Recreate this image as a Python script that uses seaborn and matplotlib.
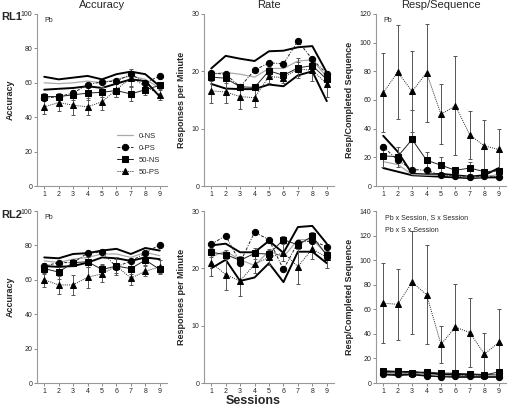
import numpy as np
import pandas as pd
import seaborn as sns
import matplotlib.pyplot as plt

sessions = [1, 2, 3, 4, 5, 6, 7, 8, 9]
groups = ['0-NS', '0-PS', '50-NS', '50-PS']

# RL1 accuracy
acc1_ns = [60, 59.5, 60, 61, 60, 62, 64, 62, 57]
acc1_ns_hi = [63.5, 62, 63, 64, 62, 65, 66.5, 65, 58]
acc1_ns_lo = [56, 56.5, 57, 58, 57, 59.5, 62, 61, 52]
acc1_ps = [51, 52, 54, 59, 60.5, 61, 65, 60, 64]
acc1_50ns = [52, 52, 53, 54, 54.5, 55.5, 53.5, 56, 58.5]
acc1_50ns_err = [2, 2, 3, 4, 3, 4, 4, 3, 2]
acc1_50ps = [46, 48.5, 47, 46, 49, 56, 63, 58, 53]
acc1_50ps_err = [4, 5, 6, 5, 5, 4, 5, 3, 3]

# RL1 rate
rate1_ns = [19.5, 19.8, 19.5, 19, 20.5, 20.5, 21.8, 22, 19]
rate1_ns_hi = [20.5, 22.7, 22.2, 21.8, 23.5, 23.6, 24.2, 24.4, 19.8]
rate1_ns_lo = [17.8, 17, 16.9, 16.9, 17.7, 17.4, 19.3, 20, 14.8]
rate1_ps = [19.7, 19.5, 17.3, 20.2, 21.5, 21.3, 25.3, 22.1, 19.6]
rate1_50ns = [19, 18.8, 17.3, 17.2, 20.1, 19.3, 20.6, 21, 18.6]
rate1_50ns_err = [0.6, 0.8, 0.5, 0.5, 0.7, 0.6, 1.7, 1.0, 1.2]
rate1_50ps = [16.6, 16.4, 15.6, 15.4, 19.1, 18.9, 20.4, 20.2, 17.8]
rate1_50ps_err = [2.1, 2.0, 2.1, 1.7, 1.1, 1.0, 1.3, 1.8, 2.2]

# RL1 responses per sequence
seq1_ns = [17, 15, 8, 7.5, 7.5, 7, 6, 6.5, 8]
seq1_ns_hi = [35, 24, 8.5, 8, 8.5, 7.5, 6.5, 7.5, 12.5]
seq1_ns_lo = [12.5, 10, 7.5, 7, 6.5, 6, 5.5, 6, 6]
seq1_ps = [27.5, 18, 11.5, 11, 7.5, 7, 6, 7, 6.5]
seq1_50ns = [21, 20.5, 32.5, 18, 14.5, 11, 12.5, 10, 10.5]
seq1_50ns_err = [8, 7, 20.5, 6, 5.5, 1.5, 4, 1, 2]
seq1_50ps = [65, 79.5, 66, 79, 50, 56, 35.5, 28, 25.5]
seq1_50ps_err = [27.5, 33, 28.5, 34, 21, 34.5, 16.5, 18, 14.5]

# RL2 accuracy
acc2_ns = [71, 70, 72, 73, 75, 75, 73, 76, 74]
acc2_ns_hi = [73, 72.5, 75, 75.5, 77, 78, 75, 78.5, 77]
acc2_ns_lo = [68, 67.5, 68, 70, 73, 72.5, 71, 73, 72]
acc2_ps = [68, 70, 70, 75.5, 76, 67.5, 71, 75.5, 80.5]
acc2_50ns = [66.5, 64.5, 70, 70.5, 66, 68, 66.5, 71.5, 66]
acc2_50ns_err = [3, 4, 2, 3, 3, 4, 3, 3, 2]
acc2_50ps = [60, 57, 57, 61.5, 63.5, 68, 61, 65, 67.5]
acc2_50ps_err = [4, 5, 6, 6, 5, 5, 4, 3, 4]

# RL2 rate
rate2_ns = [22, 23, 21.5, 20.5, 23, 22, 25, 25, 22.5]
rate2_ns_hi = [24, 24.3, 22.8, 22.8, 24.8, 22.7, 27.2, 27.4, 24.3]
rate2_ns_lo = [20, 21.5, 17.8, 18.4, 20.9, 17.6, 22.9, 22.9, 20.9]
rate2_ps = [24.2, 25.7, 21, 26.3, 25, 19.8, 24.5, 24.8, 23.8]
rate2_50ns = [22.8, 22.4, 21.4, 22.6, 22.5, 25, 24.1, 25.6, 22.3]
rate2_50ns_err = [0.8, 0.8, 0.7, 0.9, 0.8, 0.6, 0.8, 0.7, 0.8]
rate2_50ps = [21, 18.9, 17.8, 20.7, 21.9, 22.7, 20.3, 23.4, 21.9]
rate2_50ps_err = [2.3, 2.7, 2.7, 1.6, 1.3, 1.5, 3.1, 1.7, 1.9]

# RL2 responses per sequence
seq2_ns = [8, 8, 8, 7, 6, 6, 6, 6, 6]
seq2_ns_hi = [9, 9, 9, 8, 7, 7, 7, 6.5, 6]
seq2_ns_lo = [7, 6.5, 7, 6, 5.5, 5, 5, 5, 5]
seq2_ps = [7, 7, 7.5, 5.5, 5, 6, 6, 5.5, 4.5]
seq2_50ns = [10, 9.5, 8, 9, 8, 8, 7, 6.5, 9]
seq2_50ns_err = [1, 1, 1, 1, 1, 1, 1, 1, 1]
seq2_50ps = [65, 64, 82, 72, 31.5, 45.5, 41, 23.5, 33]
seq2_50ps_err = [32.5, 29, 42, 40, 15, 35, 28, 17, 27]

sns.set_style('ticks')
plt.rcParams['font.family'] = ['Liberation Sans', 'DejaVu Sans']

fig = plt.figure(figsize=(5.07, 4.13), dpi=100)

lefts = [37 / 507, 204 / 507, 376 / 507]
bottoms = [1 - 186 / 413, 1 - 383 / 413]
w, h = 130 / 507, 172 / 413

panels = [
    [(acc1_ns, acc1_ns_hi, acc1_ns_lo, acc1_ps, acc1_50ns, acc1_50ns_err, acc1_50ps, acc1_50ps_err),
     (rate1_ns, rate1_ns_hi, rate1_ns_lo, rate1_ps, rate1_50ns, rate1_50ns_err, rate1_50ps, rate1_50ps_err),
     (seq1_ns, seq1_ns_hi, seq1_ns_lo, seq1_ps, seq1_50ns, seq1_50ns_err, seq1_50ps, seq1_50ps_err)],
    [(acc2_ns, acc2_ns_hi, acc2_ns_lo, acc2_ps, acc2_50ns, acc2_50ns_err, acc2_50ps, acc2_50ps_err),
     (rate2_ns, rate2_ns_hi, rate2_ns_lo, rate2_ps, rate2_50ns, rate2_50ns_err, rate2_50ps, rate2_50ps_err),
     (seq2_ns, seq2_ns_hi, seq2_ns_lo, seq2_ps, seq2_50ns, seq2_50ns_err, seq2_50ps, seq2_50ps_err)],
]
ylims = [[(0, 100, 20), (0, 30, 10), (0, 120, 20)],
         [(0, 100, 20), (0, 30, 10), (0, 140, 20)]]
ylabels = ['Accuracy', 'Responses per Minute', 'Resp/Completed Sequence']
titles = ['Accuracy', 'Rate', 'Resp/Sequence']

line_c = '#222222'
for r in range(2):
    for c in range(3):
        ax = fig.add_axes([lefts[c], bottoms[r], w, h])
        ns, hi, lo, ps, n50, n50e, p50, p50e = panels[r][c]
        df = pd.DataFrame({'Session': sessions, 'ns': ns, 'hi': hi, 'lo': lo,
                           'ps': ps, 'n50': n50, 'p50': p50})
        sns.lineplot(data=df, x='Session', y='hi', ax=ax, color='black', lw=1.4)
        sns.lineplot(data=df, x='Session', y='lo', ax=ax, color='black', lw=1.4)
        sns.lineplot(data=df, x='Session', y='ns', ax=ax, color='#aaaaaa', lw=0.9,
                     label='0-NS' if (r, c) == (0, 0) else None)
        ax.errorbar(sessions, n50, yerr=n50e, fmt='none', ecolor='#555555',
                    elinewidth=0.7, capsize=1.5, capthick=0.7)
        ax.errorbar(sessions, p50, yerr=p50e, fmt='none', ecolor='#555555',
                    elinewidth=0.7, capsize=1.5, capthick=0.7)
        sns.lineplot(data=df, x='Session', y='ps', ax=ax, color=line_c, lw=0.7,
                     linestyle=(0, (3, 1.5, 1, 1.5)), marker='o', markersize=4.5,
                     markeredgecolor='black', markerfacecolor='black',
                     label='0-PS' if (r, c) == (0, 0) else None)
        sns.lineplot(data=df, x='Session', y='n50', ax=ax, color=line_c, lw=0.7,
                     marker='s', markersize=4.5, markeredgecolor='black',
                     markerfacecolor='black',
                     label='50-NS' if (r, c) == (0, 0) else None)
        sns.lineplot(data=df, x='Session', y='p50', ax=ax, color=line_c, lw=0.7,
                     linestyle=(0, (1, 1.2)), marker='^', markersize=5,
                     markeredgecolor='black', markerfacecolor='black',
                     label='50-PS' if (r, c) == (0, 0) else None)

        lo_y, hi_y, step = ylims[r][c]
        ax.set_ylim(lo_y, hi_y)
        ax.set_yticks(np.arange(lo_y, hi_y + 1, step))
        ax.set_xlim(0.5, 9.5)
        ax.set_xticks(sessions)
        ax.tick_params(labelsize=5, length=2, width=0.6, pad=1.5, color='#777777')
        ax.set_xlabel('')
        ax.set_ylabel(ylabels[c], fontsize=6.5, fontweight='bold', labelpad=4)
        sns.despine(ax=ax)
        for s in ['left', 'bottom']:
            ax.spines[s].set_color('#999999')
            ax.spines[s].set_linewidth(0.8)
        if r == 0:
            ax.set_title(titles[c], fontsize=8, pad=4)
        if c != 1 and (r, c) != (1, 2):
            ax.text(0.06, 0.98, 'Pb', transform=ax.transAxes, fontsize=5,
                    va='top', ha='left')
        if (r, c) == (0, 0):
            ax.legend(loc='lower right', fontsize=5.5, frameon=False,
                      handlelength=2.0, labelspacing=0.6,
                      bbox_to_anchor=(1.0, 0.02))
        elif ax.get_legend() is not None:
            ax.get_legend().remove()
        if (r, c) == (1, 2):
            ax.text(0.07, 0.985, 'Pb x Session, S x Session', transform=ax.transAxes,
                    fontsize=5, va='top', ha='left')
            ax.text(0.07, 0.905, 'Pb x S x Session', transform=ax.transAxes,
                    fontsize=5, va='top', ha='left')

fig.text(0.002, 1 - 17 / 413, 'RL1', fontsize=8, fontweight='bold', va='center')
fig.text(0.002, 1 - 215 / 413, 'RL2', fontsize=8, fontweight='bold', va='center')
fig.text(0.5, 1 - 401 / 413, 'Sessions', fontsize=9, fontweight='bold', ha='center', va='center')

fig.savefig('out.png', dpi=100)
